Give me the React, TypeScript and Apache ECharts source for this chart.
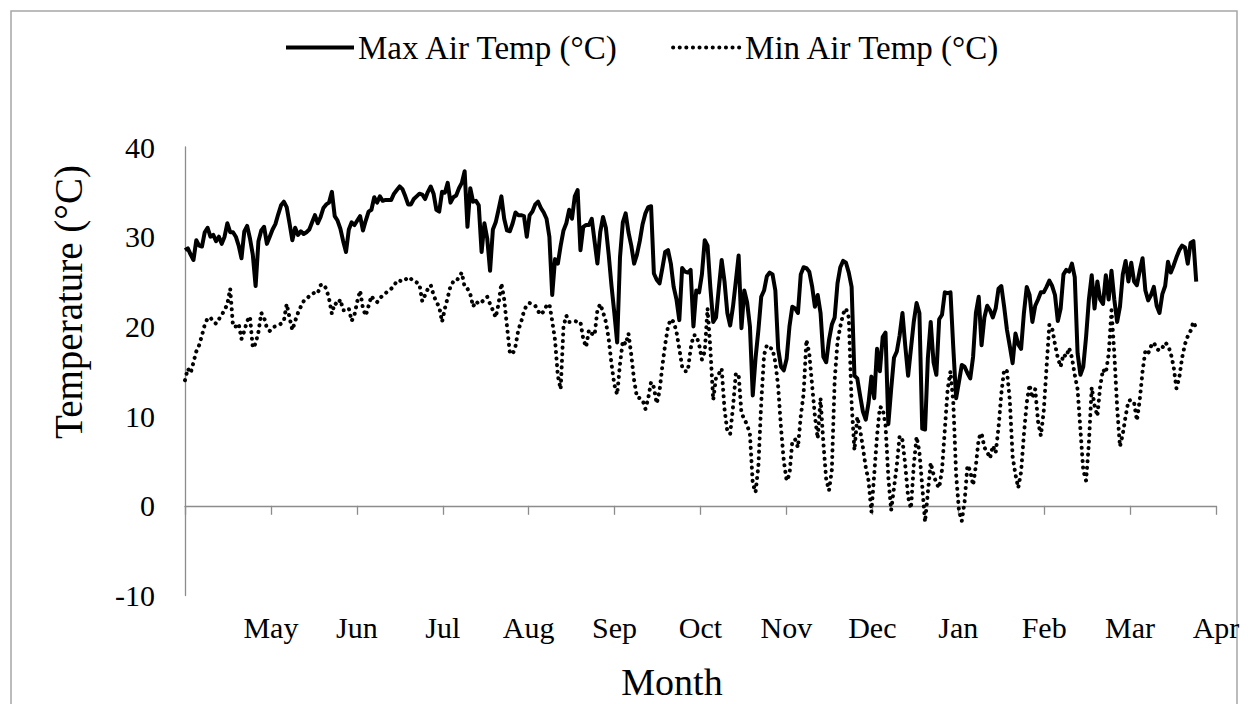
import React, { useEffect, useRef } from "react";
import * as echarts from "echarts";

// Month labels at month boundaries (index 0 = axis start, unlabeled)
const monthLabels = ["", "May", "Jun", "Jul", "Aug", "Sep", "Oct", "Nov", "Dec", "Jan", "Feb", "Mar", "Apr"];
const daysInYear = 365;

// Daily maximum air temperature (°C), starting 1 April
const maxTemp = [
  28.5, 28.7, 28.0, 27.4, 29.6, 29.0, 28.9, 30.5, 31.0, 30.0,
  30.2, 29.5, 30.0, 29.2, 30.0, 31.5, 30.5, 30.5, 30.0, 29.0,
  27.6, 30.6, 31.2, 29.8, 28.0, 24.5, 29.5, 30.7, 31.1, 29.2,
  30.0, 30.8, 31.4, 32.5, 33.5, 33.9, 33.3, 31.5, 29.6, 31.0,
  30.2, 30.6, 30.3, 30.5, 30.8, 31.6, 32.4, 31.5, 32.2, 33.2,
  33.6, 33.8, 35.0, 32.3, 31.8, 30.9, 29.5, 28.3, 30.8, 31.6,
  31.3, 31.8, 32.3, 30.7, 31.8, 32.8, 33.0, 34.4, 33.8, 34.5,
  34.0, 34.1, 34.1, 34.1, 34.8, 35.2, 35.6, 35.3, 34.5, 33.6,
  33.6, 34.2, 34.5, 34.8, 34.7, 34.2, 35.0, 35.6, 34.8, 33.0,
  32.8, 35.0, 34.9, 36.0, 33.8, 34.4, 34.6, 35.4, 36.0, 37.3,
  31.1, 35.4, 33.9, 34.0, 33.5, 28.3, 31.5, 29.8, 26.2, 30.8,
  31.6, 33.0, 34.5, 32.0, 30.7, 30.6, 31.5, 32.7, 32.4, 32.4,
  32.3, 30.0, 32.4, 32.8, 33.6, 33.9, 33.2, 32.7, 32.0, 30.0,
  23.5, 27.5, 27.0, 29.0, 30.7, 31.5, 33.0, 32.0, 34.5, 35.2,
  28.5, 31.1, 31.3, 31.3, 32.0, 29.5, 27.0, 30.5, 32.2, 31.0,
  28.0, 24.5, 21.5, 18.2, 27.7, 31.6, 32.6, 30.5, 29.0, 27.0,
  28.0, 29.5, 31.4, 32.6, 33.3, 33.4, 25.9, 25.2, 24.8, 26.5,
  28.3, 28.5, 27.0, 24.4, 23.0, 20.7, 26.5, 26.1, 26.0, 26.3,
  20.0, 24.0, 23.8, 25.8, 29.6, 29.0, 24.3, 20.5, 21.0, 24.3,
  27.4, 25.0, 21.5, 20.1, 22.2, 25.0, 27.9, 19.8, 24.0, 22.7,
  20.0, 12.3, 16.5, 19.6, 23.3, 24.0, 25.6, 26.0, 25.8, 24.0,
  17.5, 15.5, 15.1, 16.4, 20.0, 22.2, 22.0, 21.5, 25.8, 26.6,
  26.5, 26.1, 24.5, 22.2, 23.5, 21.5, 16.6, 16.0, 18.5, 20.2,
  21.0, 24.8, 26.6, 27.3, 27.1, 26.0, 24.4, 14.5, 14.2, 12.3,
  10.5, 9.6, 11.5, 14.4, 12.0, 17.5, 15.0, 18.8, 19.3, 9.1,
  13.0, 16.5, 17.2, 19.0, 21.5, 17.8, 14.5, 17.5, 20.5, 22.6,
  21.5, 8.6, 8.5, 16.5, 20.5, 16.0, 14.6, 20.8, 21.3, 23.8,
  23.7, 23.8, 17.6, 12.0, 13.8, 15.7, 15.5, 14.8, 14.2, 16.6,
  21.5, 23.3, 17.9, 21.0, 22.3, 21.8, 21.0, 22.0, 24.2, 24.5,
  22.2, 19.6, 17.8, 15.9, 19.2, 18.0, 17.5, 21.5, 24.4, 23.5,
  20.5, 22.3, 23.0, 23.8, 23.8, 24.4, 25.1, 24.5, 23.5, 20.6,
  22.0, 25.8, 26.3, 26.1, 27.0, 25.5, 17.0, 14.6, 15.5, 18.8,
  23.0, 25.7, 22.0, 25.0, 23.0, 22.5, 25.7, 23.0, 26.2, 23.0,
  20.5, 22.2, 25.8, 27.3, 25.0, 27.1, 25.0, 24.6, 26.2, 27.6,
  24.0, 22.9, 23.5, 24.4, 22.3, 21.5, 23.6, 24.5, 27.2, 26.0,
  26.8, 27.7, 28.5, 29.0, 28.8, 27.0, 29.3, 29.5, 25.0,
];

// Daily minimum air temperature (°C), starting 1 April
const minTemp = [
  14.0, 15.3, 14.8, 16.0, 17.2, 17.9, 19.0, 20.2, 20.9, 21.0,
  20.5, 20.3, 20.8, 21.3, 21.8, 22.5, 24.2, 20.0, 20.0, 20.3,
  18.6, 19.5, 20.6, 21.1, 17.6, 18.1, 19.4, 21.5, 21.0, 19.8,
  19.5, 19.9, 20.0, 20.1, 20.3, 20.6, 22.5, 21.0, 19.6, 20.6,
  21.5, 22.2, 22.8, 23.0, 23.4, 23.6, 23.8, 23.7, 24.6, 24.7,
  24.2, 23.1, 21.4, 22.6, 22.4, 23.0, 21.8, 21.8, 22.0, 20.6,
  21.3, 22.8, 24.0, 22.0, 21.2, 22.3, 23.4, 22.9, 22.7, 23.1,
  23.5, 23.7, 24.0, 24.2, 24.5, 25.1, 25.1, 25.0, 25.2, 25.5,
  25.3, 25.0, 24.9, 24.7, 22.8, 23.5, 24.2, 24.6, 23.5, 22.7,
  22.2, 20.5, 22.0, 23.2, 24.5, 25.0, 25.0, 25.5, 26.0, 24.4,
  24.2, 23.6, 22.2, 22.8, 22.5, 22.7, 23.0, 23.3, 22.5, 21.8,
  21.0, 22.5, 24.8, 23.0, 20.0, 17.1, 16.9, 17.8, 19.6, 20.5,
  21.7, 22.4, 22.6, 22.5, 22.3, 21.7, 21.3, 21.7, 22.3, 22.5,
  20.6, 18.5, 14.5, 13.0, 20.0, 21.2, 20.5, 20.5, 20.6, 20.5,
  20.5, 18.6, 17.7, 19.6, 19.2, 19.0, 21.8, 22.5, 21.6, 20.5,
  18.6, 15.8, 13.5, 12.4, 15.8, 18.4, 18.0, 19.2, 16.8, 14.0,
  12.1, 12.0, 11.8, 10.8, 12.0, 13.8, 13.2, 11.4, 12.8, 15.6,
  18.0, 20.0, 20.8, 20.5, 19.4, 17.5, 15.5, 15.0, 15.0, 17.5,
  19.0, 19.0, 18.0, 16.3, 17.2, 22.0, 17.5, 11.8, 14.3, 14.7,
  15.3, 10.8, 8.3, 8.0, 11.0, 14.7, 14.7, 10.3, 9.7, 9.0,
  8.0, 2.5, 1.5, 4.5, 11.5, 16.8, 17.9, 17.6, 17.5, 16.0,
  13.3, 8.7, 5.0, 2.8, 3.5, 7.2, 7.4, 6.5, 10.0, 12.5,
  18.5, 17.0, 13.5, 10.0, 7.5, 12.0, 7.0, 3.0, 1.7, 4.0,
  14.0, 18.3, 20.0, 21.4, 22.0, 21.0, 11.4, 6.2, 9.9, 8.5,
  6.5, 4.3, 2.8, -0.7, 3.5, 7.8, 11.0, 10.9, 9.0, 3.2,
  -0.5, 2.0, 4.5, 7.8, 7.3, 4.5, 1.0, -0.3, 4.5, 7.7,
  6.0, 2.2, -1.8, 1.5, 4.8, 3.5, 2.5, 2.0, 4.0, 8.5,
  13.0, 15.0, 11.5, 3.5, -0.5, -1.7, 0.5, 4.5, 3.9, 2.3,
  4.5, 7.5, 8.1, 6.5, 6.0, 5.3, 6.7, 5.9, 8.7, 12.5,
  15.2, 15.0, 11.8, 5.5, 3.5, 2.0, 3.8, 8.0, 11.5, 13.5,
  12.0, 13.0, 9.4, 7.8, 10.5, 15.4, 20.2, 19.8, 18.0, 16.5,
  15.5, 16.9, 16.6, 17.6, 16.5, 14.6, 13.0, 8.5, 4.0, 2.8,
  7.0, 13.2, 11.2, 10.0, 13.3, 15.2, 14.8, 16.9, 21.8, 17.0,
  11.0, 6.6, 8.0, 10.0, 11.7, 11.8, 11.5, 9.5, 11.8, 15.0,
  17.3, 17.0, 17.8, 18.2, 17.5, 17.3, 17.6, 18.2, 17.9, 17.0,
  15.5, 13.1, 14.3, 16.5, 18.0, 18.9, 19.5, 20.5, 19.8,
];

const FONT = "'Liberation Serif', 'Times New Roman', serif";
const AXIS_GRAY = "#8c8c8c";

export default function App() {
  const ref = useRef<HTMLDivElement>(null);

  useEffect(() => {
    if (!ref.current) return;
    const chart = echarts.init(ref.current, undefined, { renderer: "svg" });
    const toMonths = (i: number) => (i * 12) / daysInYear;
    const maxData = maxTemp.map((v, i) => [toMonths(i), v]);
    const minData = minTemp.map((v, i) => [toMonths(i), v]);
    const labelFmt = (v: number) => monthLabels[Math.round(v)] ?? "";

    chart.setOption({
      animation: false,
      backgroundColor: "#ffffff",
      textStyle: { fontFamily: FONT, color: "#000" },
      grid: { left: 185, right: 32, top: 147, bottom: 108.5, containLabel: false },
      legend: {
        top: 26,
        left: 279,
        itemWidth: 68,
        itemHeight: 14,
        itemGap: 52,
        itemStyle: { color: "transparent", borderWidth: 0, opacity: 0 },
        lineStyle: { width: 4 },
        textStyle: { fontFamily: FONT, fontSize: 33, color: "#000", padding: [0, 0, 0, -1] },
        data: ["Max Air Temp (°C)", "Min Air Temp (°C)"],
      },
      xAxis: [
        {
          type: "value",
          min: 0,
          max: 12,
          interval: 1,
          axisLine: { onZero: true, lineStyle: { color: AXIS_GRAY, width: 1.3 } },
          axisTick: { show: true, length: 9, inside: false, lineStyle: { color: AXIS_GRAY, width: 1.3 } },
          axisLabel: { show: false },
          splitLine: { show: false },
        },
        {
          type: "value",
          position: "bottom",
          min: 0,
          max: 12,
          interval: 1,
          axisLine: { show: false, onZero: false },
          axisTick: { show: false },
          axisLabel: {
            show: true,
            margin: 17,
            fontFamily: FONT,
            fontSize: 30,
            color: "#000",
            formatter: labelFmt,
          },
          splitLine: { show: false },
        },
      ],
      yAxis: {
        type: "value",
        min: -10,
        max: 40,
        interval: 10,
        axisLine: { show: true, onZero: false, lineStyle: { color: AXIS_GRAY, width: 1.3 } },
        axisTick: { show: false },
        axisLabel: { fontFamily: FONT, fontSize: 30, color: "#000", margin: 30 },
        splitLine: { show: false },
      },
      graphic: [
        {
          type: "rect",
          shape: { x: 11, y: 11, width: 1226, height: 730 },
          style: { fill: "none", stroke: "#a6a6a6", lineWidth: 1.5 },
          silent: true,
        },
        {
          type: "text",
          x: 672,
          y: 682,
          style: {
            text: "Month",
            font: `38px ${FONT}`,
            fill: "#000",
            align: "center",
            verticalAlign: "middle",
          },
        },
        {
          type: "text",
          x: 68,
          y: 302,
          rotation: Math.PI / 2,
          style: {
            text: "Temperature (°C)",
            font: `39px ${FONT}`,
            fill: "#000",
            align: "center",
            verticalAlign: "middle",
          },
        },
      ],
      series: [
        {
          name: "Max Air Temp (°C)",
          type: "line",
          xAxisIndex: 0,
          data: maxData,
          symbol: "none",
          lineStyle: { color: "#000", width: 4, join: "round" },
          itemStyle: { color: "#000" },
        },
        {
          name: "Min Air Temp (°C)",
          type: "line",
          xAxisIndex: 0,
          data: minData,
          symbol: "none",
          lineStyle: { color: "#000", width: 4, type: [0.1, 6.5], cap: "round" },
          itemStyle: { color: "#000" },
        },
      ],
    });

    return () => chart.dispose();
  }, []);

  return (
    <div
      ref={ref}
      style={{ position: "fixed", left: 0, top: 0, width: 1248, height: 704, background: "#fff" }}
    />
  );
}
